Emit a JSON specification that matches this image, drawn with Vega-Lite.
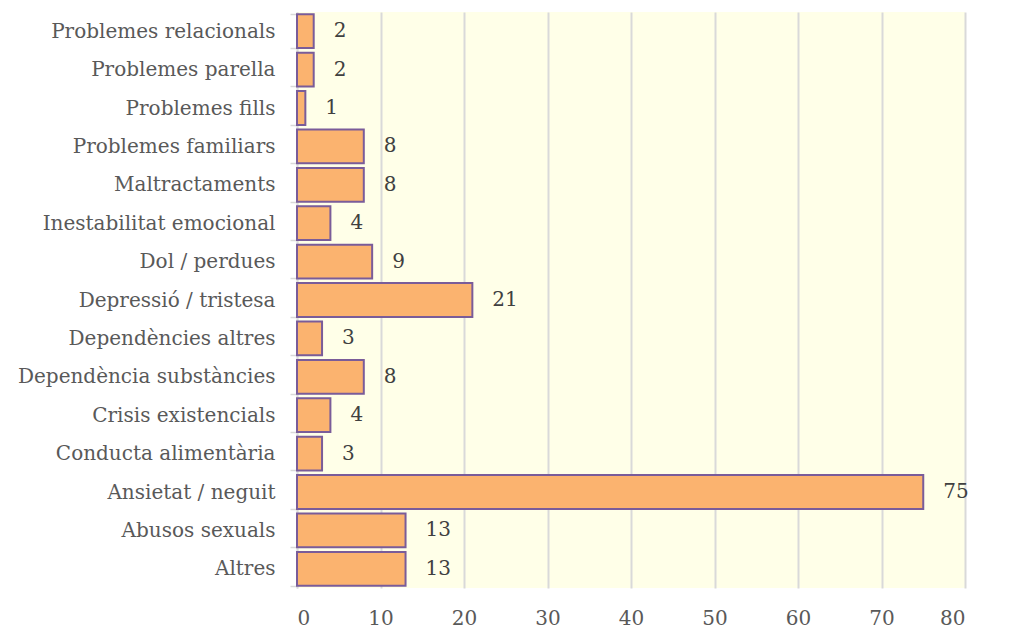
{
  "$schema": "https://vega.github.io/schema/vega-lite/v6.json",
  "width": 668,
  "height": 576,
  "autosize": {"type": "none"},
  "padding": {"left": 297, "top": 12, "right": 46, "bottom": 47},
  "background": "#ffffff",
  "config": {
    "view": {"fill": "#FFFFE8", "stroke": null},
    "font": "DejaVu Serif"
  },
  "data": {
    "values": [
      {"cat": "Problemes relacionals", "n": 2},
      {"cat": "Problemes parella", "n": 2},
      {"cat": "Problemes fills", "n": 1},
      {"cat": "Problemes familiars", "n": 8},
      {"cat": "Maltractaments", "n": 8},
      {"cat": "Inestabilitat emocional", "n": 4},
      {"cat": "Dol / perdues", "n": 9},
      {"cat": "Depressió / tristesa", "n": 21},
      {"cat": "Dependències altres", "n": 3},
      {"cat": "Dependència substàncies", "n": 8},
      {"cat": "Crisis existencials", "n": 4},
      {"cat": "Conducta alimentària", "n": 3},
      {"cat": "Ansietat / neguit", "n": 75},
      {"cat": "Abusos sexuals", "n": 13},
      {"cat": "Altres", "n": 13}
    ]
  },
  "encoding": {
    "y": {
      "field": "cat", "type": "nominal", "sort": null, "title": null,
      "scale": {"paddingInner": 0.12, "paddingOuter": 0.06},
      "axis": {
        "labelFont": "DejaVu Serif", "labelFontSize": 20, "labelColor": "#595959",
        "tickBand": "extent", "tickSize": 7, "tickColor": "#D9D9D9", "tickWidth": 1.5,
        "domainColor": "#D9D9D9", "domainWidth": 1.5,
        "labelPadding": 15, "labelLimit": 400
      }
    },
    "x": {
      "field": "n", "type": "quantitative", "title": null,
      "scale": {"domain": [0, 80], "nice": false},
      "axis": {
        "values": [0, 10, 20, 30, 40, 50, 60, 70, 80],
        "labelFont": "DejaVu Serif", "labelFontSize": 20, "labelColor": "#595959",
        "ticks": false, "domain": false, "labelPadding": 20,
        "grid": true, "gridColor": "#D9D9D9", "gridWidth": 2
      }
    }
  },
  "layer": [
    {
      "mark": {"type": "bar", "fill": "#FBB36F", "stroke": "#7A5C99", "strokeWidth": 2}
    },
    {
      "mark": {"type": "text", "align": "left", "baseline": "middle", "dx": 20, "fontSize": 20, "color": "#404040", "font": "DejaVu Serif"},
      "encoding": {"text": {"field": "n", "type": "quantitative"}}
    }
  ]
}
